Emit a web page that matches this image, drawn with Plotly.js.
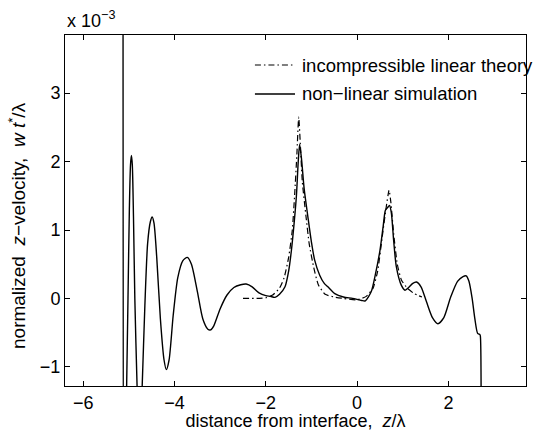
<!DOCTYPE html>
<html>
<head>
<meta charset="utf-8">
<script src="https://cdn.plot.ly/plotly-3.0.1.min.js"></script>
<style>html,body{margin:0;padding:0;background:#fff;overflow:hidden;width:535px;height:431px;}#chart{width:535px;height:431px;overflow:hidden;}</style>
</head>
<body>
<div id="chart"></div>
<script>
// values in units of 1e-3
const simX = [-5.13, -5.115, -5.09, -5.05, -5.02, -4.99, -4.965, -4.945, -4.925, -4.90, -4.87, -4.82, -4.77, -4.74, -4.71, -4.65, -4.59, -4.53, -4.49, -4.45, -4.39, -4.31, -4.23, -4.18, -4.12, -4.03, -3.93, -3.82, -3.72, -3.63, -3.50, -3.38, -3.27, -3.21, -3.14, -3.00, -2.85, -2.70, -2.55, -2.43, -2.30, -2.15, -2.00, -1.90, -1.80, -1.70, -1.58, -1.50, -1.44, -1.38, -1.33, -1.29, -1.26, -1.22, -1.16, -1.08, -1.00, -0.93, -0.82, -0.72, -0.64, -0.49, -0.30, -0.10, 0.10, 0.18, 0.31, 0.40, 0.50, 0.57, 0.62, 0.67, 0.71, 0.75, 0.80, 0.86, 0.97, 1.05, 1.13, 1.22, 1.30, 1.40, 1.52, 1.65, 1.77, 1.90, 2.05, 2.20, 2.32, 2.39, 2.45, 2.52, 2.58, 2.64, 2.69, 2.70, 2.705];
const simY = [9.0, -5.0, -3.0, -1.3, 0.0, 1.3, 1.95, 2.09, 1.95, 1.2, 0.0, -1.3, -2.3, -1.8, -1.3, -0.1, 0.8, 1.12, 1.19, 1.1, 0.6, -0.3, -0.9, -1.04, -0.9, -0.25, 0.3, 0.55, 0.6, 0.5, 0.1, -0.3, -0.45, -0.46, -0.4, -0.15, 0.05, 0.16, 0.2, 0.21, 0.17, 0.08, 0.04, 0.03, 0.015, 0.06, 0.17, 0.40, 0.70, 1.10, 1.50, 2.00, 2.25, 2.05, 1.60, 1.20, 0.82, 0.56, 0.34, 0.22, 0.17, 0.07, 0.02, 0.00, -0.03, -0.035, 0.10, 0.35, 0.70, 1.05, 1.29, 1.33, 1.36, 1.25, 0.85, 0.46, 0.19, 0.12, 0.16, 0.22, 0.24, 0.17, -0.05, -0.28, -0.37, -0.28, 0.02, 0.25, 0.32, 0.33, 0.25, 0.00, -0.30, -0.51, -0.53, -0.55, -5.0];

const linX = [-2.50, -2.20, -2.00, -1.85, -1.70, -1.60, -1.50, -1.42, -1.37, -1.32, -1.28, -1.24, -1.20, -1.12, -1.05, -0.95, -0.85, -0.70, -0.50, -0.30, 0.00, 0.20, 0.35, 0.45, 0.55, 0.63, 0.70, 0.74, 0.80, 0.88, 0.97, 1.10, 1.25, 1.42];
const linY = [0.00, 0.00, 0.01, 0.05, 0.15, 0.30, 0.60, 1.00, 1.50, 2.10, 2.65, 2.20, 1.70, 1.20, 0.80, 0.45, 0.20, 0.06, 0.02, 0.00, -0.02, 0.03, 0.15, 0.40, 0.90, 1.30, 1.58, 1.40, 0.95, 0.50, 0.27, 0.15, 0.07, 0.02];

const seriesNames = ['incompressible linear theory', 'non\u2212linear simulation'];
const xTicks = [-6, -4, -2, 0, 2];
const yTicks = [-1, 0, 1, 2, 3];

const F = 'Liberation Sans, Arial, Helvetica, sans-serif';
const NB = '\u00A0';
const DASHDOT = '6px,3px,1.5px,3px';

const traces = [
  {x: linX, y: linY, type: 'scatter', mode: 'lines', name: seriesNames[0],
   line: {color: '#000', width: 1.2, dash: DASHDOT, shape: 'spline', smoothing: 0.5}},
  {x: simX, y: simY, type: 'scatter', mode: 'lines', name: seriesNames[1],
   line: {color: '#000', width: 1.4, shape: 'spline', smoothing: 0.7}}
];

const axisCommon = {
  showgrid: false, zeroline: false, showline: true, linecolor: '#000', linewidth: 1,
  mirror: 'ticks', ticks: 'inside', ticklen: 5, tickcolor: '#000', tickwidth: 1,
  tickfont: {family: F, size: 18, color: '#000'}, automargin: false
};

// manual legend (paper coordinates)
const legX0 = 0.412, legX1 = 0.499, legTextX = 0.509;
const legY = [0.9145, 0.832];

const layout = {
  width: 535, height: 431,
  margin: {l: 65, r: 9, t: 35, b: 45},
  paper_bgcolor: '#fff', plot_bgcolor: '#fff',
  font: {family: F, size: 18, color: '#000'},
  showlegend: false,
  xaxis: Object.assign({}, axisCommon, {
    range: [-6.4, 3.7], tickvals: xTicks, ticktext: xTicks.map(v => v < 0 ? '\u2212' + Math.abs(v) : String(v)),
    title: {text: 'distance from interface,' + NB + NB + '<i>z</i>/λ', font: {family: F, size: 18, color: '#000'}, standoff: 2}
  }),
  yaxis: Object.assign({}, axisCommon, {
    range: [-1.28, 3.85], tickvals: yTicks, ticktext: yTicks.map(v => v < 0 ? '\u2212' + Math.abs(v) : String(v))
  }),
  shapes: [
    {type: 'line', xref: 'paper', yref: 'paper', x0: legX0, x1: legX1, y0: legY[0], y1: legY[0],
     line: {color: '#000', width: 1.2, dash: DASHDOT}},
    {type: 'line', xref: 'paper', yref: 'paper', x0: legX0, x1: legX1, y0: legY[1], y1: legY[1],
     line: {color: '#000', width: 1.4}}
  ],
  annotations: [
    {xref: 'paper', yref: 'paper', x: 0, y: 1, xanchor: 'left', yanchor: 'bottom', yshift: 2,
     text: 'x 10<sup>\u22123</sup>', showarrow: false, font: {family: F, size: 18, color: '#000'}},
    {xref: 'paper', yref: 'paper', x: -0.104, y: 0.456, xanchor: 'center', yanchor: 'middle', textangle: -90,
     text: 'normalized' + NB + NB + '<i>z</i>\u2212velocity,' + NB + NB + '<i>w t</i><sup>*</sup>/λ',
     showarrow: false, font: {family: F, size: 19, color: '#000'}},
    {xref: 'paper', yref: 'paper', x: legTextX, y: legY[0], xanchor: 'left', yanchor: 'middle',
     text: seriesNames[0], showarrow: false, font: {family: F, size: 18.5, color: '#000'}},
    {xref: 'paper', yref: 'paper', x: legTextX, y: legY[1], xanchor: 'left', yanchor: 'middle',
     text: seriesNames[1], showarrow: false, font: {family: F, size: 18.5, color: '#000'}}
  ]
};

Plotly.newPlot('chart', traces, layout, {displayModeBar: false, staticPlot: true});
</script>
</body>
</html>
